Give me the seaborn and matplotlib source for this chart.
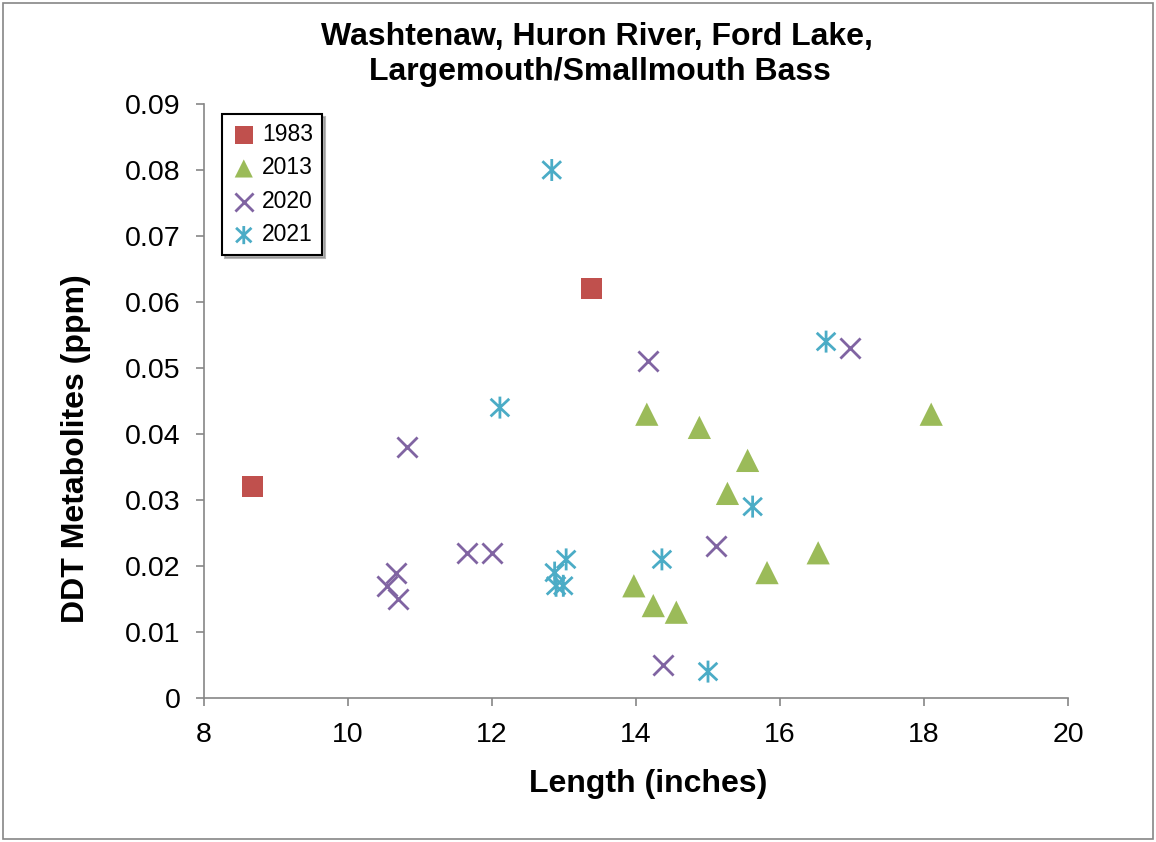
import matplotlib
matplotlib.use("Agg")
import matplotlib.pyplot as plt
import seaborn as sns
import pandas as pd
from matplotlib.path import Path
from matplotlib.patches import Rectangle

# ---- data ----
years = ["1983", "2013", "2020", "2021"]
len_1983 = [8.67, 13.38]
ddt_1983 = [0.032, 0.062]
len_2013 = [14.15, 14.88, 15.55, 15.27, 16.53, 15.82, 18.10, 13.97, 14.24, 14.56]
ddt_2013 = [0.043, 0.041, 0.036, 0.031, 0.022, 0.019, 0.043, 0.017, 0.014, 0.013]
len_2020 = [10.82, 14.17, 16.97, 11.65, 12.00, 15.11, 14.37, 10.66, 10.54, 10.70]
ddt_2020 = [0.038, 0.051, 0.053, 0.022, 0.022, 0.023, 0.005, 0.019, 0.017, 0.015]
len_2021 = [12.83, 16.64, 12.11, 15.62, 14.36, 13.03, 15.00, 12.87, 12.89, 12.99]
ddt_2021 = [0.080, 0.054, 0.044, 0.029, 0.021, 0.021, 0.004, 0.019, 0.017, 0.017]

title_lines = ["Washtenaw, Huron River, Ford Lake,", "Largemouth/Smallmouth Bass"]
xlabel = "Length (inches)"
ylabel = "DDT Metabolites (ppm)"
xticks = [8, 10, 12, 14, 16, 18, 20]
yticks = [0, 0.01, 0.02, 0.03, 0.04, 0.05, 0.06, 0.07, 0.08, 0.09]
ytick_labels = ["0", "0.01", "0.02", "0.03", "0.04", "0.05", "0.06", "0.07", "0.08", "0.09"]

colors = {"1983": "#C0504D", "2013": "#9BBB59", "2020": "#8064A2", "2021": "#4BACC6"}

df = pd.concat([
    pd.DataFrame({"Length": len_1983, "DDT": ddt_1983, "Year": "1983"}),
    pd.DataFrame({"Length": len_2013, "DDT": ddt_2013, "Year": "2013"}),
    pd.DataFrame({"Length": len_2020, "DDT": ddt_2020, "Year": "2020"}),
    pd.DataFrame({"Length": len_2021, "DDT": ddt_2021, "Year": "2021"}),
], ignore_index=True)

sns.set_theme(style="ticks")
plt.rcParams["font.family"] = ["Liberation Sans", "DejaVu Sans"]
plt.rcParams["text.color"] = "black"
plt.rcParams["axes.labelcolor"] = "black"

fig = plt.figure(figsize=(11.56, 8.42), dpi=100)
ax = fig.add_axes([204/1156, 1-698/842, (1068-204)/1156, (698-104)/842])

# asterisk marker: vertical line + X
ast = Path([(0, -1), (0, 1), (-0.85, -0.8), (0.85, 0.8), (-0.85, 0.8), (0.85, -0.8)],
           [Path.MOVETO, Path.LINETO, Path.MOVETO, Path.LINETO, Path.MOVETO, Path.LINETO])

d = df[df.Year == "1983"]
sns.scatterplot(data=d, x="Length", y="DDT", ax=ax, marker="s", s=220,
                color=colors["1983"], edgecolor="none", label="1983", legend=False)
d = df[df.Year == "2013"]
sns.scatterplot(data=d, x="Length", y="DDT", ax=ax, marker="^", s=280,
                color=colors["2013"], edgecolor="none", label="2013", legend=False)
d = df[df.Year == "2020"]
sns.scatterplot(data=d, x="Length", y="DDT", ax=ax, marker="x", s=210,
                color=colors["2020"], linewidth=2, label="2020", legend=False)
d = df[df.Year == "2021"]
sns.scatterplot(data=d, x="Length", y="DDT", ax=ax, marker=ast, s=250,
                facecolor="none", edgecolor=colors["2021"], linewidth=2,
                label="2021", legend=False)

ax.set_xlim(8, 20)
ax.set_ylim(0, 0.09)
ax.set_xticks(xticks)
ax.set_xticklabels([str(v) for v in xticks])
ax.set_yticks(yticks)
ax.set_yticklabels(ytick_labels)
ax.tick_params(axis="both", labelsize=20.5, length=6, width=1.2, color="#868686",
               labelcolor="black", direction="out")
ax.tick_params(axis="y", pad=11)
ax.tick_params(axis="x", pad=11)
for s in ["top", "right"]:
    ax.spines[s].set_visible(False)
for s in ["left", "bottom"]:
    ax.spines[s].set_color("#868686")
    ax.spines[s].set_linewidth(1.2)

ax.set_xlabel("")
ax.set_ylabel("")
fig.text(648/1156, 1-784/842, xlabel, ha="center", va="center", fontsize=23,
         fontweight="bold")
fig.text(76/1156, 1-449/842, ylabel, ha="center", va="center", fontsize=23,
         fontweight="bold", rotation=90)
fig.text(597/1156, 1-45/842, title_lines[0], ha="center", va="baseline", fontsize=23,
         fontweight="bold")
fig.text(600/1156, 1-80/842, title_lines[1], ha="center", va="baseline", fontsize=23,
         fontweight="bold")

leg = ax.legend(loc="upper left", bbox_to_anchor=(18/864, (698-114)/594), fontsize=16.5,
                frameon=True, fancybox=False, shadow={"color": "#888888", "alpha": 0.6},
                borderpad=0.4, labelspacing=0.45, handletextpad=0.25,
                handlelength=1.1, borderaxespad=0)
leg.get_frame().set_edgecolor("black")
leg.get_frame().set_linewidth(1.5)
for h in leg.legend_handles:
    h.set_sizes([170])

# outer chart border
fig.patches.append(Rectangle((3/1156, 3/842), 1150/1156, 836/842, transform=fig.transFigure,
                             fill=False, edgecolor="#868686", linewidth=1.2))

fig.savefig("out.png", dpi=100)
